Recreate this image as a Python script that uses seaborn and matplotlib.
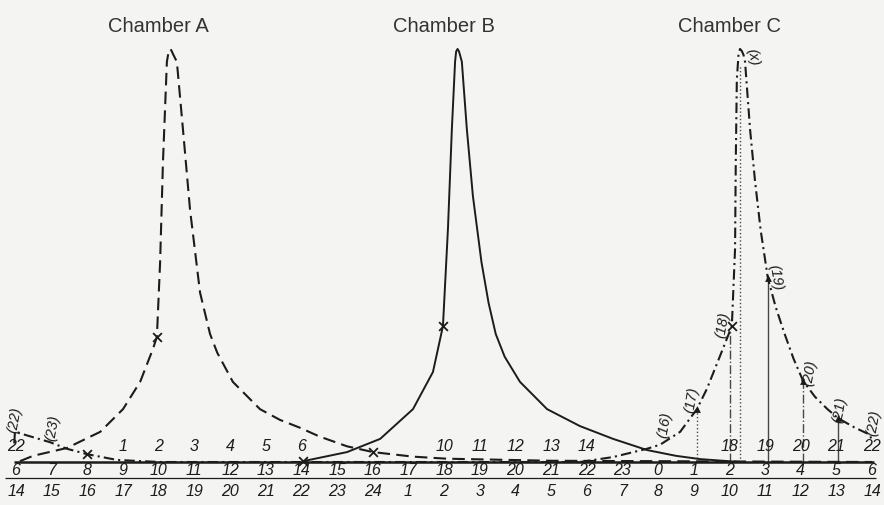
import matplotlib
matplotlib.use("Agg")
import matplotlib.pyplot as plt
import seaborn as sns

# x = hour slot along the time axis (0..24), y = level in % of the peak
a_x = [0.11, 0.48, 1.43, 2.36, 3.00, 3.48, 3.84, 3.95, 4.04, 4.12, 4.23, 4.28, 4.32,
       4.36, 4.40, 4.51, 4.68, 4.88, 5.16, 5.44, 5.64, 6.08, 6.84, 7.40, 7.96, 8.50,
       9.28, 10.01, 11.13, 12.08, 15.0, 24.0]
a_y = [0.2, 1.5, 3.4, 7.3, 12.8, 19.4, 27.4, 30.3, 48.4, 72.6, 96.9, 99.4, 100,
       99.6, 98.8, 96.9, 80.6, 61.0, 41.0, 31.0, 26.5, 19.4, 12.8, 10.2, 8.3, 6.2,
       3.8, 2.4, 1.3, 0.8, 0.3, 0.0]

b_x = [8.05, 9.28, 10.21, 11.13, 11.69, 11.97, 12.11, 12.22, 12.31, 12.34, 12.38,
       12.42, 12.45, 12.50, 12.64, 12.81, 13.05, 13.25, 13.45, 13.70, 14.13, 14.89,
       15.81, 16.74, 17.69, 18.50, 19.18, 20.3]
b_y = [0.2, 2.4, 5.6, 12.8, 21.8, 32.9, 56.4, 80.6, 96.9, 99.4, 100,
       99.4, 98.5, 96.9, 80.6, 64.4, 48.4, 38.5, 31.0, 25.5, 19.4, 12.8,
       8.7, 5.6, 2.9, 1.5, 0.7, 0.0]

c_x = [15.81, 16.74, 17.69, 18.06, 18.62, 19.09, 19.37, 19.74, 20.07, 20.16, 20.18,
       20.21, 20.26, 20.30, 20.35, 20.40, 20.44, 20.58, 20.72, 20.88, 21.08, 21.30,
       21.55, 21.80, 22.07, 22.40, 22.75, 23.05, 23.50, 23.94, 24.0]
c_y = [0.0, 1.2, 3.2, 4.2, 7.3, 12.8, 17.7, 25.7, 32.9, 51.6, 72.6,
       92.7, 99.0, 100, 99.5, 98.5, 96.9, 80.6, 68.0, 56.0, 44.5, 37.5,
       31.0, 25.0, 19.6, 15.8, 12.8, 10.6, 8.4, 6.6, 5.0]

# chamber C continues from the left edge (hours 22, 23 ...)
ct_x = [-0.05, -0.03, 0.95, 1.43, 1.99, 2.83, 4.04, 15.81]
ct_y = [4.5, 7.3, 4.8, 3.2, 1.9, 0.5, 0.0, 0.0]

cross_x = [3.95, 10.01, 11.97, 8.05, 20.07, 1.99]
cross_y = [30.3, 2.4, 32.9, 0.2, 32.9, 1.9]

# chamber C readings dropped to the time axis
guide_x = [19.09, 20.02, 20.30, 21.08, 22.07, 23.05]
guide_top = [12.8, 32.0, 96.0, 44.5, 19.6, 10.6]
arrow_x = [19.09, 21.08, 22.07, 23.05]
arrow_top = [12.8, 44.5, 19.6, 10.6]

point_labels = ["(22)", "(23)", "(16)", "(17)", "(18)", "(x)", "(19)", "(20)", "(21)", "(22)"]
point_x = [-0.03, 1.04, 18.2, 18.95, 19.8, 20.66, 21.28, 22.26, 23.1, 24.06]
point_y = [10.4, 8.5, 9.2, 15.3, 33.5, 98.3, 45.0, 21.8, 12.8, 9.7]

titles = ["Chamber A", "Chamber B", "Chamber C"]
title_x = [4, 12, 20]

slots = list(range(25))
row1 = {0: 22, 3: 1, 4: 2, 5: 3, 6: 4, 7: 5, 8: 6, 12: 10, 13: 11, 14: 12, 15: 13,
        16: 14, 20: 18, 21: 19, 22: 20, 23: 21, 24: 22}
row2 = [(6 + i) % 24 for i in slots]
row3 = [(13 + i) % 24 + 1 for i in slots]

ink = "#1c1c1c"
paper = "#f4f4f2"

sns.set_theme(style="white")
plt.rcParams["font.family"] = ["Liberation Sans Narrow", "Liberation Sans", "DejaVu Sans"]

fig = plt.figure(figsize=(8.84, 5.06), dpi=100, facecolor=paper)
ax = fig.add_axes([0, 0, 1, 1])
ax.set_facecolor(paper)
ax.set_xlim(-0.449, 24.336)
ax.set_ylim(-10.41, 112.1)
ax.axis("off")

# time axis lines
ax.hlines(0, -0.05, 24.05, color=ink, lw=1.8)
ax.hlines(-3.87, -0.3, 24.1, color=ink, lw=0.9)

sns.lineplot(x=a_x, y=a_y, sort=False, ax=ax, color=ink, lw=1.5,
             linestyle=(0, (6, 3)))
sns.lineplot(x=b_x, y=b_y, sort=False, ax=ax, color=ink, lw=1.4)
sns.lineplot(x=c_x, y=c_y, sort=False, ax=ax, color=ink, lw=1.5,
             linestyle=(0, (5, 2, 1, 2)))
sns.lineplot(x=ct_x, y=ct_y, sort=False, ax=ax, color=ink, lw=1.5,
             linestyle=(0, (5, 2, 1, 2)))

sns.scatterplot(x=cross_x, y=cross_y, marker="x", s=40, color=ink, linewidth=1.3, ax=ax)

styles = [":", "-.", ":", "-", "-.", "-"]
for gx, gt, st in zip(guide_x, guide_top, styles):
    ax.vlines(gx, 0, gt, color=ink, lw=1.0, linestyles=st, alpha=0.8)
sns.scatterplot(x=arrow_x, y=arrow_top, marker="^", s=24, color=ink, linewidth=0, ax=ax)

for lab, px, py in zip(point_labels, point_x, point_y):
    rot = -80 if lab in ("(19)", "(x)") else 80
    ax.text(px, py, lab, rotation=rot, ha="center", va="center",
            fontsize=10.5, style="italic", color=ink)

for t, tx in zip(titles, title_x):
    ax.text(tx, 105.8, t, ha="center", va="center", fontsize=14.5, color="#333333",
            family=["Liberation Sans", "DejaVu Sans"])

for i in slots:
    if i in row1:
        ax.text(i, 3.9, str(row1[i]), ha="center", va="center", fontsize=11.5,
                style="italic", color=ink)
    ax.text(i, -1.7, str(row2[i]), ha="center", va="center", fontsize=11.5,
            style="italic", color=ink)
    ax.text(i, -7.0, str(row3[i]), ha="center", va="center", fontsize=11.5,
            style="italic", color=ink)

fig.savefig("out.png", dpi=100, facecolor=paper)
